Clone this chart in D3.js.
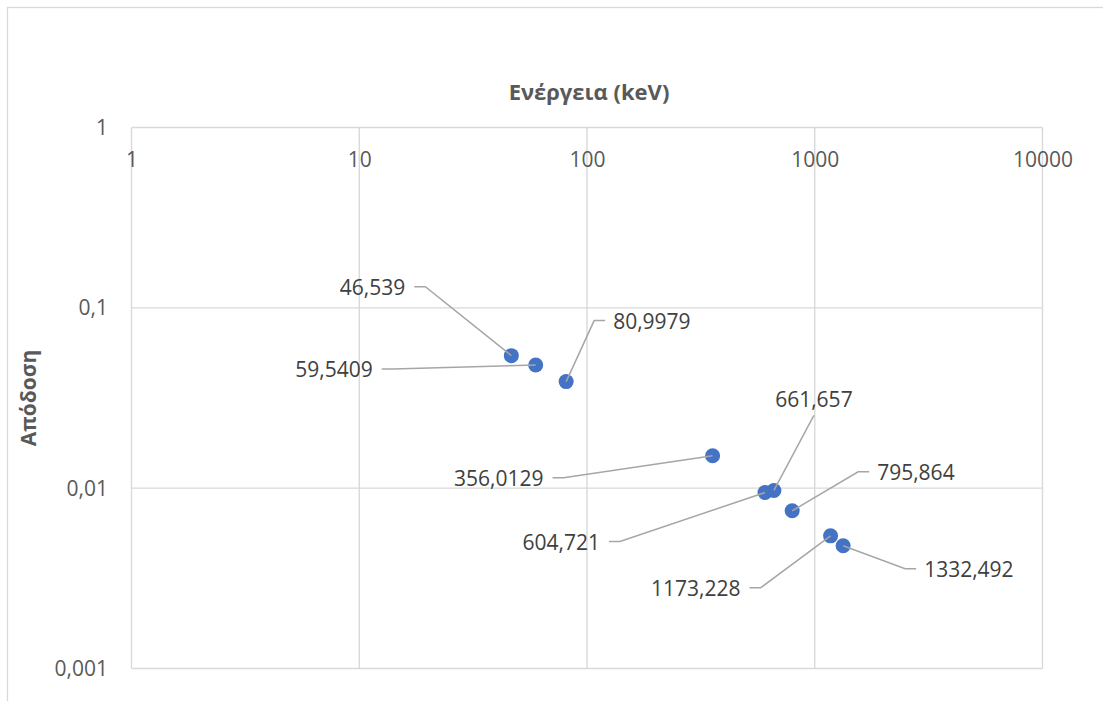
<!DOCTYPE html>
<html>
<head>
<meta charset="utf-8">
<script src="https://cdn.jsdelivr.net/npm/d3@7"></script>
<style>
  html, body { margin: 0; padding: 0; background: #fff; }
  svg { display: block; }
  text { font-family: "Open Sans", "Noto Sans", sans-serif; }
</style>
</head>
<body>
<svg id="chart" width="1103" height="701"></svg>
<script>
// Photopeak efficiency versus gamma energy
const energies = [46.539, 59.5409, 80.9979, 356.0129, 604.721, 661.657, 795.864, 1173.228, 1332.492];
const efficiencies = [0.0543, 0.0482, 0.0390, 0.01513, 0.00946, 0.00971, 0.00749, 0.00544, 0.00479];

const xTicks = [1, 10, 100, 1000, 10000];
const yTicks = [0.001, 0.01, 0.1, 1];

const xTitle = "Ενέργεια (keV)";
const yTitle = "Απόδοση";

// Label placement: elbow offset from the point (px) and which side the text sits on
const labelLayout = [
  { dx: -86, dy: -69, side: "L" },
  { dx: -143, dy: 4, side: "L" },
  { dx: 28, dy: -61, side: "R" },
  { dx: -149, dy: 22, side: "L" },
  { dx: -145, dy: 49, side: "L" },
  { dx: 40, dy: -75, side: "T" },
  { dx: 66, dy: -39, side: "R" },
  { dx: -70, dy: 52, side: "L" },
  { dx: 62, dy: 23, side: "R" }
];

const locale = d3.formatLocale({ decimal: ",", thousands: "", grouping: [3], currency: ["", ""] });
const fmtNum = v => String(v).replace(".", ",");

const svg = d3.select("#chart");

// Outer chart frame
svg.append("rect")
  .attr("x", 7.5).attr("y", 7.5)
  .attr("width", 1200).attr("height", 800)
  .attr("fill", "#fff").attr("stroke", "#d9d9d9").attr("stroke-width", 1.3);

const plotL = 131.5, plotR = 1042.5, plotT = 127.5, plotB = 668.5;
const x = d3.scaleLog().domain([1, 10000]).range([plotL, plotR]);
const y = d3.scaleLog().domain([0.001, 1]).range([plotB, plotT]);

const gridColor = "#d9d9d9";

// Gridlines
const grid = svg.append("g");
grid.selectAll("line.vx").data(xTicks).join("line")
  .attr("class", "vx")
  .attr("x1", d => x(d)).attr("x2", d => x(d))
  .attr("y1", plotT).attr("y2", plotB)
  .attr("stroke", gridColor).attr("stroke-width", 1.4);
grid.selectAll("line.hy").data(yTicks).join("line")
  .attr("class", "hy")
  .attr("x1", plotL).attr("x2", plotR)
  .attr("y1", d => y(d)).attr("y2", d => y(d))
  .attr("stroke", gridColor).attr("stroke-width", 1.4);

// X axis labels sit just inside the top edge
const xAxis = d3.axisBottom(x).tickValues(xTicks).tickSize(0).tickFormat(locale.format("d"));
const gx = svg.append("g").attr("transform", `translate(0,${plotT})`).call(xAxis);
gx.select(".domain").remove();
gx.selectAll("text")
  .attr("y", 39.5).attr("dy", null)
  .attr("fill", "#595959").style("font-size", "21px")
  .style("font-family", '"Open Sans", sans-serif');

// Y axis labels
const yAxis = d3.axisLeft(y).tickValues(yTicks).tickSize(0)
  .tickFormat(d => d === 1 ? "1" : locale.format("." + Math.round(-Math.log10(d)) + "f")(d));
const gy = svg.append("g").attr("transform", `translate(${plotL},0)`).call(yAxis);
gy.select(".domain").remove();
gy.selectAll("text")
  .attr("x", -23.5).attr("dy", "0.33em")
  .attr("fill", "#595959").style("font-size", "21px")
  .style("font-family", '"Open Sans", sans-serif');

// Axis titles
svg.append("text")
  .attr("x", 589).attr("y", 100)
  .attr("text-anchor", "middle")
  .attr("fill", "#595959").style("font-size", "22px").style("font-weight", "bold")
  .text(xTitle);

svg.append("text")
  .attr("transform", `translate(36,${(plotT + plotB) / 2}) rotate(-90)`)
  .attr("text-anchor", "middle")
  .attr("fill", "#595959").style("font-size", "21px").style("font-weight", "bold")
  .text(yTitle);

const points = energies.map((e, i) => ({ e, v: efficiencies[i], lay: labelLayout[i] }));

// Markers
svg.append("g").selectAll("circle").data(points).join("circle")
  .attr("cx", d => x(d.e)).attr("cy", d => y(d.v))
  .attr("r", 7.5).attr("fill", "#4472c4");

// Leader lines: point -> elbow -> short horizontal stub toward the label
const stub = 11;
svg.append("g").selectAll("path").data(points).join("path")
  .attr("d", d => {
    const px = x(d.e), py = y(d.v);
    const ex = px + d.lay.dx, ey = py + d.lay.dy;
    if (d.lay.side === "T") return `M${px},${py}L${ex},${ey}`;
    const sx = d.lay.side === "L" ? ex - stub : ex + stub;
    return `M${px},${py}L${ex},${ey}L${sx},${ey}`;
  })
  .attr("fill", "none").attr("stroke", "#a6a6a6").attr("stroke-width", 1.5);

// Data labels (energy values)
svg.append("g").selectAll("text").data(points).join("text")
  .attr("x", d => {
    const ex = x(d.e) + d.lay.dx;
    if (d.lay.side === "L") return ex - stub - 9;
    if (d.lay.side === "R") return ex + stub + 8;
    return ex;
  })
  .attr("y", d => {
    const ey = y(d.v) + d.lay.dy;
    return d.lay.side === "T" ? ey - 8 : ey + 8;
  })
  .attr("text-anchor", d => d.lay.side === "L" ? "end" : d.lay.side === "R" ? "start" : "middle")
  .attr("fill", "#404040").style("font-size", "21px")
  .text(d => fmtNum(d.e));
</script>
</body>
</html>
